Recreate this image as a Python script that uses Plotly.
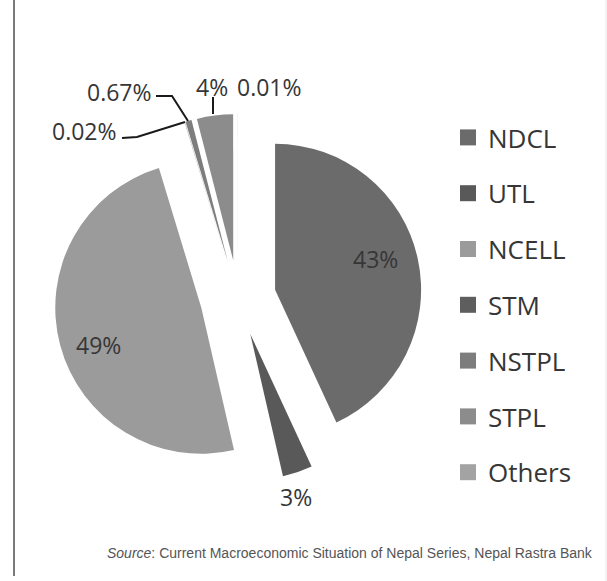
import plotly.graph_objects as go

W, H = 607, 581

# ---- data ----
companies = ["NDCL", "UTL", "NCELL", "STM", "NSTPL", "STPL", "Others"]
shares = [43.1, 3.3, 48.9, 0.02, 0.67, 3.99, 0.01]
share_labels = ["43%", "3%", "49%", "0.02%", "0.67%", "4%", "0.01%"]
colors = ["#6b6b6b", "#595959", "#9b9b9b", "#5e5e5e", "#7d7d7d", "#8c8c8c", "#a3a3a3"]

FONT = "Open Sans"
LABEL_COLOR = "#363636"


def px(x):
    return x / W


def py(y):
    return 1 - y / H


# pie geometry (pixels)
cx, cy, half = 238, 298, 184

fig = go.Figure()
fig.add_trace(go.Pie(
    labels=companies,
    values=shares,
    textinfo="none",
    marker=dict(colors=colors, line=dict(width=0)),
    sort=False,
    direction="clockwise",
    rotation=0,
    pull=[0.26] * len(shares),
    showlegend=False,
    hoverinfo="label+percent",
    domain=dict(x=[px(cx - half), px(cx + half)], y=[py(cy + half), py(cy - half)]),
))

# legend entries (one per company, spaced like the original)
for name, col in zip(companies, colors):
    fig.add_trace(go.Scatter(
        x=[None], y=[None], mode="markers", name=name, legendgroup=name,
        marker=dict(symbol="square", size=16, color=col),
        hoverinfo="skip",
    ))

# data-label placement (pixel positions of label centres, in slice order)
label_xy = [(375, 259), (296, 497), (99, 345), (84, 131), (119, 92), (212, 87), (269, 87)]

annotations = []
for t, (x, y) in zip(share_labels, label_xy):
    annotations.append(dict(
        text=t, x=px(x), y=py(y), xref="paper", yref="paper",
        xanchor="center", yanchor="middle", showarrow=False,
        font=dict(family=FONT, size=23, color=LABEL_COLOR),
    ))
annotations.append(dict(
    text="<i>Source</i>: Current Macroeconomic Situation of Nepal Series, Nepal Rastra Bank",
    x=px(595), y=py(553), xref="paper", yref="paper", xanchor="right", yanchor="middle",
    showarrow=False, font=dict(family="Liberation Sans, Arial, sans-serif", size=14, color="#555555"),
))


def path(points):
    return "M " + " L ".join(f"{px(x)},{py(y)}" for x, y in points)


shapes = [
    # leader lines
    dict(type="path", path=path([(156, 96), (172, 96), (188, 121)]), xref="paper", yref="paper",
         line=dict(color="#1a1a1a", width=2)),
    dict(type="path", path=path([(122, 138), (137, 137), (185, 122)]), xref="paper", yref="paper",
         line=dict(color="#1a1a1a", width=2)),
    dict(type="path", path=path([(213, 97), (213, 114)]), xref="paper", yref="paper",
         line=dict(color="#1a1a1a", width=2)),
    # frame lines
    dict(type="line", x0=px(14), x1=px(14), y0=py(0), y1=py(576), xref="paper", yref="paper",
         line=dict(color="#7a7a7a", width=2)),
    dict(type="line", x0=px(606), x1=px(606), y0=py(0), y1=py(581), xref="paper", yref="paper",
         line=dict(color="#e6e6e6", width=1)),
]

fig.update_layout(
    width=W, height=H,
    margin=dict(l=0, r=0, t=0, b=0, autoexpand=False),
    paper_bgcolor="white", plot_bgcolor="white",
    xaxis=dict(visible=False), yaxis=dict(visible=False),
    font=dict(family=FONT, color=LABEL_COLOR),
    showlegend=True,
    legend=dict(
        x=px(448), y=py(114), xanchor="left", yanchor="top",
        font=dict(family=FONT, size=26, color=LABEL_COLOR),
        tracegroupgap=19, bgcolor="rgba(0,0,0,0)",
    ),
    annotations=annotations,
    shapes=shapes,
)

fig.write_html("out.html", config={"displayModeBar": False},
               post_script="document.body.style.margin='0';")
